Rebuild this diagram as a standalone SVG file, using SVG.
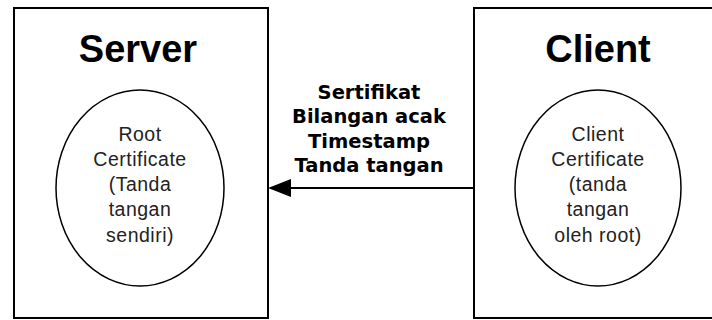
<svg xmlns="http://www.w3.org/2000/svg" width="712" height="320" viewBox="0 0 712 320">
  <style>
    .box { fill: #fff; stroke: #000; stroke-width: 2; }
    .cert { fill: none; stroke: #000; stroke-width: 1.5; }
    .title { font-family: "Liberation Sans", Arial, sans-serif; font-weight: bold; font-size: 38px; fill: #000; text-anchor: middle; }
    .cert-text { font-family: "Liberation Sans", Arial, sans-serif; font-size: 19.5px; letter-spacing: 0.5px; fill: #222; text-anchor: middle; }
    .msg { font-family: "DejaVu Sans", Verdana, sans-serif; font-weight: bold; font-size: 19.5px; fill: #000; text-anchor: middle; }
    .link { stroke: #000; stroke-width: 2; fill: none; }
  </style>

  <!-- Server node -->
  <g id="server">
    <rect class="box" x="14" y="8" width="254" height="310"/>
    <text class="title" x="138" y="62">Server</text>
    <ellipse class="cert" cx="140" cy="188" rx="84" ry="98"/>
    <text class="cert-text" x="140" y="141">Root</text>
    <text class="cert-text" x="140" y="166">Certificate</text>
    <text class="cert-text" x="140" y="191">(Tanda</text>
    <text class="cert-text" x="140" y="216">tangan</text>
    <text class="cert-text" x="140" y="242">sendiri)</text>
  </g>

  <!-- Client node -->
  <g id="client">
    <rect class="box" x="474" y="8" width="250" height="310"/>
    <text class="title" x="598" y="62">Client</text>
    <ellipse class="cert" cx="598" cy="188" rx="83" ry="98"/>
    <text class="cert-text" x="598" y="141">Client</text>
    <text class="cert-text" x="598" y="166">Certificate</text>
    <text class="cert-text" x="598" y="191">(tanda</text>
    <text class="cert-text" x="598" y="216">tangan</text>
    <text class="cert-text" x="598" y="242">oleh root)</text>
  </g>

  <!-- Connectors -->
  <g id="connectors">
    <line class="link" x1="474" y1="188" x2="285" y2="188"/>
    <path d="M268,188 L291,179 L291,197 Z" fill="#000"/>
    <g id="message-label">
      <text class="msg" x="369" y="99">Sertifikat</text>
      <text class="msg" x="369" y="123">Bilangan acak</text>
      <text class="msg" x="369" y="148">Timestamp</text>
      <text class="msg" x="369" y="172">Tanda tangan</text>
    </g>
  </g>
</svg>
